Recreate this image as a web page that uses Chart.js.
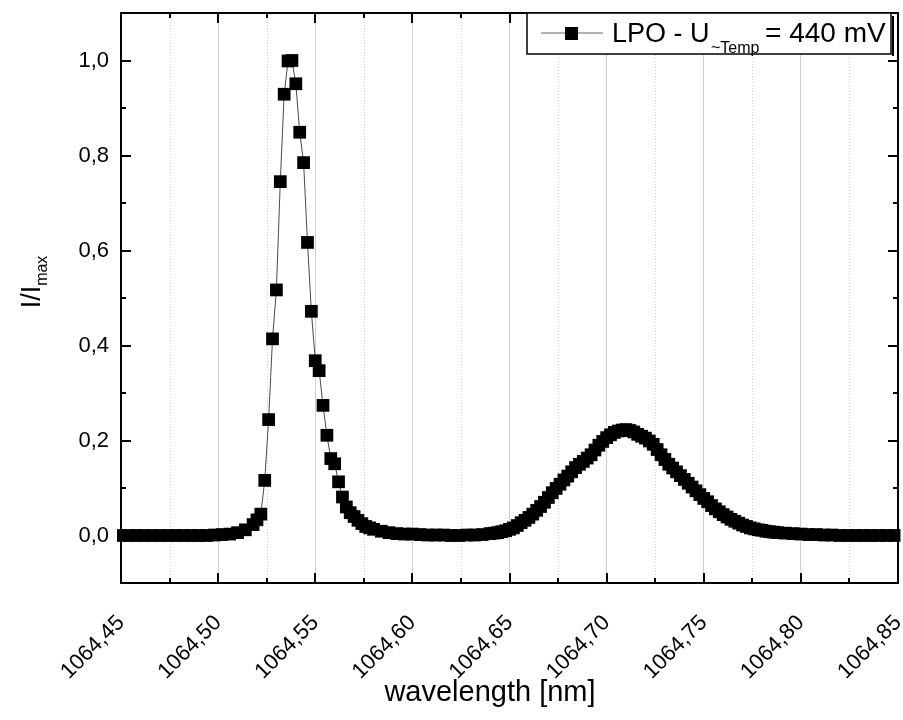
<!DOCTYPE html>
<html>
<head>
<meta charset="utf-8">
<title>LPO spectrum</title>
<script src="https://cdn.jsdelivr.net/npm/chart.js@4.4.1/dist/chart.umd.min.js"></script>
<style>
    html, body { margin: 0; padding: 0; background: #fff; }
    #wrap { position: relative; width: 903px; height: 720px; }
</style>
</head>
<body>
<div id="wrap"><canvas id="spectrum" width="903" height="720"></canvas></div>
<script>
// measured spectrum, wavelength in nm
var wavelength = [
    1064.450, 1064.454, 1064.458, 1064.462, 1064.466, 1064.470, 1064.474, 1064.478, 1064.482,
    1064.486, 1064.490, 1064.494, 1064.498, 1064.502, 1064.506, 1064.510, 1064.514, 1064.518,
    1064.520, 1064.522, 1064.524, 1064.526, 1064.528, 1064.530, 1064.532, 1064.534, 1064.536,
    1064.538, 1064.540, 1064.542, 1064.544, 1064.546, 1064.548, 1064.550, 1064.552, 1064.554,
    1064.556, 1064.558, 1064.560, 1064.562, 1064.564, 1064.566, 1064.568, 1064.570, 1064.572,
    1064.574, 1064.576, 1064.578, 1064.580,
    1064.584, 1064.588, 1064.592, 1064.596, 1064.600, 1064.604, 1064.608, 1064.612, 1064.616,
    1064.620, 1064.624, 1064.628, 1064.632, 1064.636,
    1064.640, 1064.642, 1064.644, 1064.646, 1064.648, 1064.650, 1064.652, 1064.654, 1064.656, 1064.658,
    1064.660, 1064.662, 1064.664, 1064.666, 1064.668, 1064.670, 1064.672, 1064.674, 1064.676, 1064.678,
    1064.680, 1064.682, 1064.684, 1064.686, 1064.688, 1064.690, 1064.692, 1064.694, 1064.696, 1064.698,
    1064.700, 1064.702, 1064.704, 1064.706, 1064.708, 1064.710, 1064.712, 1064.714, 1064.716, 1064.718,
    1064.720, 1064.722, 1064.724, 1064.726, 1064.728, 1064.730, 1064.732, 1064.734, 1064.736, 1064.738,
    1064.740, 1064.742, 1064.744, 1064.746, 1064.748, 1064.750, 1064.752, 1064.754, 1064.756, 1064.758,
    1064.760, 1064.762, 1064.764, 1064.766, 1064.768, 1064.770, 1064.772, 1064.774, 1064.776, 1064.778,
    1064.780, 1064.782, 1064.784, 1064.786, 1064.788,
    1064.792, 1064.796, 1064.800, 1064.804, 1064.808, 1064.812, 1064.816, 1064.820, 1064.824,
    1064.828, 1064.832, 1064.836, 1064.840, 1064.844, 1064.848
];

// normalised intensity I/Imax
var intensity = [
    0, 0, 0, 0, 0, 0, 0, 0, 0,
    0, 0, 0, 0.001, 0.002, 0.003, 0.006, 0.012, 0.023,
    0.033, 0.045, 0.116, 0.244, 0.414, 0.517, 0.745, 0.929, 0.999,
    1.0, 0.951, 0.849, 0.785, 0.617, 0.472, 0.368, 0.347, 0.274,
    0.211, 0.162, 0.151, 0.113, 0.081, 0.060, 0.048, 0.040, 0.032,
    0.025, 0.019, 0.016, 0.013,
    0.009, 0.006, 0.004, 0.003, 0.003, 0.002, 0.001, 0.001, 0.001,
    0, 0, 0.001, 0.001, 0.002,
    0.004, 0.005, 0.006, 0.008, 0.010, 0.013, 0.016, 0.021, 0.027, 0.032,
    0.038, 0.045, 0.053, 0.061, 0.070, 0.080, 0.090, 0.099, 0.108, 0.117,
    0.125, 0.134, 0.143, 0.150, 0.156, 0.163, 0.170, 0.180, 0.190, 0.198,
    0.206, 0.212, 0.217, 0.220, 0.222, 0.223, 0.221, 0.218, 0.213, 0.209,
    0.205, 0.199, 0.192, 0.181, 0.170, 0.160, 0.150, 0.142, 0.134, 0.126,
    0.118, 0.110, 0.102, 0.094, 0.086, 0.078, 0.071, 0.063, 0.056, 0.050,
    0.044, 0.039, 0.034, 0.030, 0.026, 0.022, 0.019, 0.016, 0.014, 0.012,
    0.011, 0.009, 0.008, 0.007, 0.006,
    0.005, 0.004, 0.003, 0.002, 0.002, 0.001, 0.001, 0, 0,
    0, 0, 0, 0, 0, 0
];

var xTickValues = [1064.45, 1064.50, 1064.55, 1064.60, 1064.65, 1064.70, 1064.75, 1064.80, 1064.85];
var xMinorValues = [1064.475, 1064.525, 1064.575, 1064.625, 1064.675, 1064.725, 1064.775, 1064.825];
var yTickValues = [0, 0.2, 0.4, 0.6, 0.8, 1.0];
var yMinorValues = [0.1, 0.3, 0.5, 0.7, 0.9];

var xTitle = 'wavelength [nm]';
var seriesName = 'LPO - U';
var seriesSub = '~Temp';
var seriesTail = '= 440 mV';

(function () {
    'use strict';

    var FONT = '"Liberation Sans", Arial, Helvetica, sans-serif';

    function commaNumber(value, digits) {
        return Number(value).toFixed(digits).replace('.', ',');
    }

    function line(ctx, x1, y1, x2, y2) {
        ctx.beginPath();
        ctx.moveTo(x1, y1);
        ctx.lineTo(x2, y2);
        ctx.stroke();
    }

    // box around the plot, dotted minor grid and inward ticks on all four sides
    var framePlugin = {
        id: 'frame',
        beforeDatasetsDraw: function (chart) {
            var ctx = chart.ctx;
            var area = chart.chartArea;
            var xs = chart.scales.x;
            var ys = chart.scales.y;

            ctx.save();
            ctx.strokeStyle = '#d2d2d2';
            ctx.lineWidth = 1;
            ctx.setLineDash([1, 2]);
            xMinorValues.forEach(function (v) {
                var px = Math.round(xs.getPixelForValue(v)) + 0.5;
                line(ctx, px, area.top, px, area.bottom);
            });
            ctx.setLineDash([]);

            ctx.strokeStyle = '#000';
            ctx.lineWidth = 2;
            ctx.strokeRect(area.left, area.top, area.right - area.left, area.bottom - area.top);

            function xTick(v, len) {
                var px = Math.round(xs.getPixelForValue(v));
                line(ctx, px, area.bottom, px, area.bottom - len);
                line(ctx, px, area.top, px, area.top + len);
            }
            function yTick(v, len) {
                var py = Math.round(ys.getPixelForValue(v));
                line(ctx, area.left, py, area.left + len, py);
                line(ctx, area.right, py, area.right - len, py);
            }
            xTickValues.forEach(function (v) { xTick(v, 10); });
            xMinorValues.forEach(function (v) { xTick(v, 5); });
            yTickValues.forEach(function (v) { yTick(v, 10); });
            yMinorValues.forEach(function (v) { yTick(v, 5); });
            ctx.restore();
        }
    };

    // axis titles and legend box (both need subscripts or an offset position)
    var labelsPlugin = {
        id: 'labels',
        afterDraw: function (chart) {
            var ctx = chart.ctx;
            var area = chart.chartArea;

            ctx.save();
            ctx.fillStyle = '#000';
            ctx.textBaseline = 'alphabetic';

            // x title
            ctx.font = '29px ' + FONT;
            ctx.textAlign = 'center';
            ctx.fillText(xTitle, 490, 701);
            ctx.textAlign = 'left';

            // y title
            ctx.save();
            ctx.font = '27px ' + FONT;
            var mainW = ctx.measureText('I/I').width;
            ctx.font = '16px ' + FONT;
            var subW = ctx.measureText('max').width;
            var total = mainW + subW;
            ctx.translate(40, 282);
            ctx.rotate(-Math.PI / 2);
            ctx.font = '27px ' + FONT;
            ctx.fillText('I/I', -total / 2, 0);
            ctx.font = '16px ' + FONT;
            ctx.fillText('max', -total / 2 + mainW, 7);
            ctx.restore();

            // legend
            var bx = 527, by = area.top, bw = 364, bh = 41;
            ctx.fillStyle = '#fff';
            ctx.fillRect(bx, by, bw, bh);
            ctx.strokeStyle = '#000';
            ctx.lineWidth = 1.5;
            ctx.strokeRect(bx, by, bw, bh);
            ctx.lineWidth = 2;
            line(ctx, bx + bw + 2, by + 3, bx + bw + 2, by + bh + 2);

            ctx.strokeStyle = '#9a9a9a';
            ctx.lineWidth = 1.5;
            line(ctx, 541, by + 20, 603, by + 20);
            ctx.fillStyle = '#000';
            ctx.fillRect(565, by + 14, 13, 13);

            var base = by + 29;
            ctx.font = '27px ' + FONT;
            ctx.fillText(seriesName, 612, base);
            ctx.font = '16px ' + FONT;
            ctx.fillText(seriesSub, 711, base + 11);
            ctx.font = '28px ' + FONT;
            ctx.fillText(seriesTail, 765, base);
            ctx.restore();
        }
    };

    function init() {
        if (typeof Chart === 'undefined') {
            return;
        }

        var points = wavelength.map(function (w, i) {
            return { x: w, y: intensity[i] };
        });

        new Chart(document.getElementById('spectrum'), {
            type: 'line',
            data: {
                datasets: [{
                    label: seriesName + seriesSub + ' ' + seriesTail,
                    data: points,
                    borderColor: '#4a4a4a',
                    borderWidth: 1,
                    tension: 0,
                    pointStyle: 'rect',
                    pointRadius: 9,
                    pointBackgroundColor: '#000',
                    pointBorderColor: '#000',
                    pointBorderWidth: 0,
                    clip: { left: 4, right: 4, top: 0, bottom: 0 }
                }]
            },
            options: {
                responsive: false,
                animation: false,
                devicePixelRatio: 1,
                layout: {
                    autoPadding: false,
                    padding: { left: 0, top: 13, right: 5, bottom: 0 }
                },
                plugins: {
                    legend: { display: false },
                    tooltip: { enabled: false }
                },
                scales: {
                    x: {
                        type: 'linear',
                        min: 1064.45,
                        max: 1064.85,
                        afterBuildTicks: function (scale) {
                            scale.ticks = xTickValues.map(function (v) { return { value: v }; });
                        },
                        afterFit: function (scale) {
                            scale.height = 137;
                            scale.paddingLeft = 0;
                            scale.paddingRight = 0;
                        },
                        ticks: {
                            autoSkip: false,
                            minRotation: 45,
                            maxRotation: 45,
                            padding: 27,
                            color: '#000',
                            font: { size: 22, family: FONT },
                            callback: function (value) {
                                return commaNumber(value, 2);
                            }
                        },
                        grid: {
                            color: '#d0d0d0',
                            lineWidth: 1,
                            drawTicks: false
                        },
                        border: { display: false }
                    },
                    y: {
                        type: 'linear',
                        min: -0.1,
                        max: 1.1,
                        afterBuildTicks: function (scale) {
                            scale.ticks = yTickValues.map(function (v) { return { value: v }; });
                        },
                        afterFit: function (scale) {
                            scale.width = 121;
                            scale.paddingTop = 0;
                            scale.paddingBottom = 0;
                        },
                        ticks: {
                            padding: 12,
                            color: '#000',
                            font: { size: 22, family: FONT },
                            callback: function (value) {
                                return commaNumber(value, 1);
                            }
                        },
                        grid: { display: false, drawTicks: false },
                        border: { display: false }
                    }
                }
            },
            plugins: [framePlugin, labelsPlugin]
        });
    }

    if (document.readyState === 'loading') {
        document.addEventListener('DOMContentLoaded', init);
    } else {
        init();
    }
})();
</script>
</body>
</html>
